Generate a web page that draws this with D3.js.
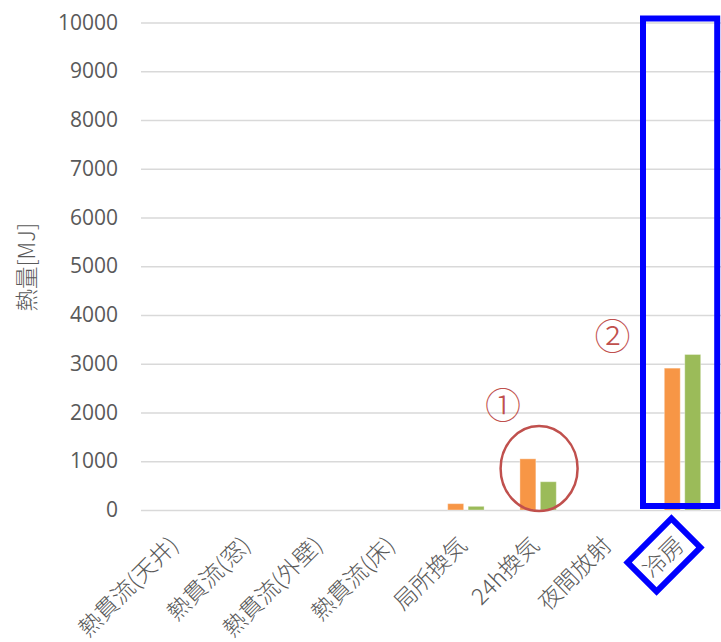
<!DOCTYPE html>
<html>
<head>
<meta charset="utf-8">
<script src="https://cdn.jsdelivr.net/npm/d3@7"></script>
<style>
  html, body { margin: 0; padding: 0; background: #fff; }
  svg { display: block; }
</style>
</head>
<body>
<svg id="chart" width="721" height="642"></svg>
<script>
// Heat breakdown per item [MJ], two cases side by side
const categories = ['熱貫流(天井)', '熱貫流(窓)', '熱貫流(外壁)', '熱貫流(床)', '局所換気', '24h換気', '夜間放射', '冷房'];
const caseA = [0, 0, 0, 0, 130, 1050, 0, 2910];
const caseB = [0, 0, 0, 0, 75, 580, 0, 3190];
const seriesNames = ['caseA', 'caseB'];
const seriesColors = ['#F79646', '#9BBB59'];
const yTicks = [0, 1000, 2000, 3000, 4000, 5000, 6000, 7000, 8000, 9000, 10000];
const yTitle = '熱量[MJ]';

(function () {
  const svg = d3.select('#chart');
  const W = 721, H = 642;
  const plotL = 141, plotR = 718.6, plotT = 22.5, plotB = 510;

  const x0 = d3.scaleBand().domain(categories).range([plotL, plotR]).paddingInner(0).paddingOuter(0);
  const x1 = d3.scaleBand().domain(seriesNames)
    .range([x0.bandwidth() * 0.248, x0.bandwidth() * 0.752]).paddingInner(0.22).paddingOuter(0);
  const y = d3.scaleLinear().domain([0, 10000]).range([plotB, plotT]);
  const color = d3.scaleOrdinal().domain(seriesNames).range(seriesColors);

  svg.append('rect').attr('width', W).attr('height', H).attr('fill', '#fff');

  // value axis with gridlines
  const yAxis = svg.append('g')
    .attr('transform', `translate(${plotL},0)`)
    .call(d3.axisLeft(y).tickValues(yTicks).tickSize(-(W - plotL)).tickPadding(23).tickFormat(d3.format('d')));
  yAxis.select('.domain').remove();
  yAxis.selectAll('.tick line').attr('stroke', '#d9d9d9').attr('stroke-width', 1.6);
  yAxis.selectAll('.tick text')
    .attr('fill', '#595959')
    .style('font-family', '"Open Sans", "Liberation Sans", sans-serif')
    .style('font-size', '21px');

  // bars
  const rows = categories.map((c, i) => ({ cat: c, values: [caseA[i], caseB[i]] }));
  const groups = svg.append('g').selectAll('g').data(rows).join('g')
    .attr('transform', d => `translate(${x0(d.cat)},0)`);
  groups.selectAll('rect')
    .data(d => d.values.map((v, k) => ({ key: seriesNames[k], value: v })).filter(e => e.value > 0))
    .join('rect')
    .attr('x', d => x1(d.key))
    .attr('width', x1.bandwidth())
    .attr('y', d => y(d.value))
    .attr('height', d => y(0) - y(d.value))
    .attr('fill', d => color(d.key))
    .attr('stroke', '#ffffff').attr('stroke-opacity', 0.35).attr('stroke-width', 1);

  // category labels, rotated
  const labelFont = '"Noto Sans CJK JP", "Noto Sans", sans-serif';
  svg.append('g').selectAll('text').data(categories).join('text')
    .attr('transform', d => `translate(${x0(d) + x0.bandwidth() / 2 - 3},541) rotate(-45)`)
    .attr('text-anchor', 'end')
    .attr('dy', '0.35em')
    .attr('fill', '#595959')
    .style('font-family', labelFont)
    .style('font-weight', 300)
    .style('font-size', '23px')
    .text(d => d);

  // axis title
  svg.append('text')
    .attr('transform', `translate(27,${(plotT + plotB) / 2 + 1}) rotate(-90)`)
    .attr('text-anchor', 'middle')
    .attr('dy', '0.35em')
    .attr('fill', '#595959')
    .style('font-family', labelFont)
    .style('font-weight', 300)
    .style('font-size', '22.5px')
    .text(yTitle);

  // callout ①: ellipse around the 24h ventilation bars
  const c24 = x0('24h換気') + x0.bandwidth() / 2;
  svg.append('ellipse')
    .attr('cx', c24 + 1).attr('cy', y(850))
    .attr('rx', 38.5).attr('ry', 42.5)
    .attr('fill', 'none').attr('stroke', '#C0504D').attr('stroke-width', 2.5);
  svg.append('text')
    .attr('x', c24 - 35).attr('y', y(2120))
    .attr('text-anchor', 'middle').attr('dy', '0.35em')
    .attr('fill', '#C0504D')
    .style('font-family', labelFont).style('font-weight', 300).style('font-size', '36px')
    .text('①');

  // callout ②: frame around the cooling column and its label
  const xc = x0('冷房');
  svg.append('text')
    .attr('x', xc - 34).attr('y', y(3550))
    .attr('text-anchor', 'middle').attr('dy', '0.35em')
    .attr('fill', '#C0504D')
    .style('font-family', labelFont).style('font-weight', 300).style('font-size', '36px')
    .text('②');
  svg.append('rect')
    .attr('x', xc - 3.4).attr('y', y(10000) - 4)
    .attr('width', x0.bandwidth() + 2).attr('height', y(0) - y(10000))
    .attr('fill', 'none').attr('stroke', '#0000FF').attr('stroke-width', 6);
  svg.append('rect')
    .attr('transform', `translate(${xc + x0.bandwidth() / 2 - 18.5},555) rotate(-45)`)
    .attr('x', -31).attr('y', -20.5).attr('width', 62).attr('height', 41)
    .attr('fill', 'none').attr('stroke', '#0000FF').attr('stroke-width', 6);
})();
</script>
</body>
</html>
